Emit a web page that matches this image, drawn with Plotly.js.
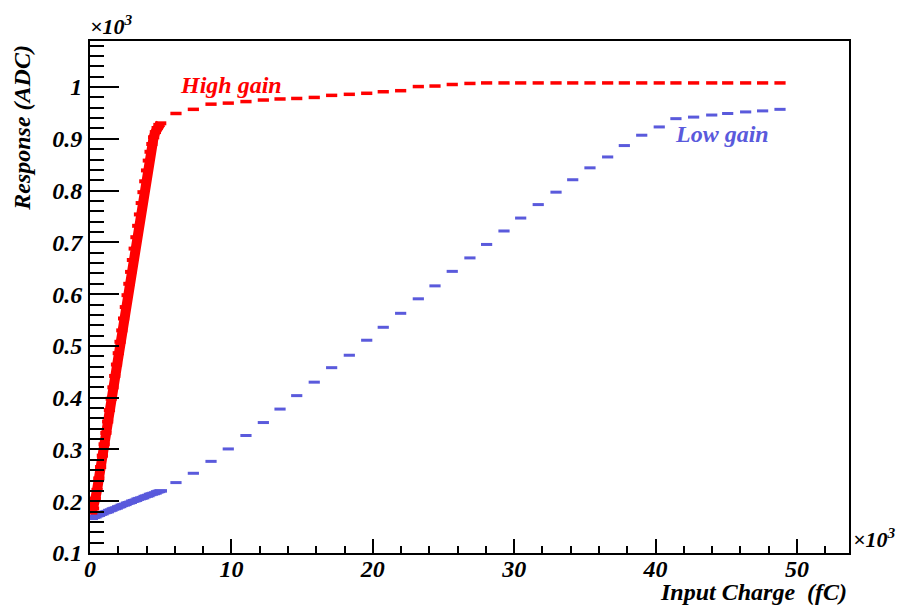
<!DOCTYPE html>
<html>
<head>
<meta charset="utf-8">
<script src="https://cdn.plot.ly/plotly-3.0.1.min.js"></script>
<style>html,body{margin:0;padding:0;background:#fff;}#chart{width:901px;height:608px;}</style>
</head>
<body>
<div id="chart"></div>
<script>
// Input charge (x10^3 fC), dense scan region
const xDense = [0.125,0.25,0.375,0.5,0.625,0.75,0.875,1.0,1.125,1.25,1.375,1.5,1.625,1.75,1.875,2.0,2.125,2.25,2.375,2.5,2.625,2.75,2.875,3.0,3.125,3.25,3.375,3.5,3.625,3.75,3.875,4.0,4.125,4.25,4.375,4.5,4.625,4.75,4.875,5.0];
// Response (x10^3 ADC), high gain, dense region
const highDense = [0.178,0.186,0.205,0.222,0.244,0.266,0.288,0.310,0.332,0.354,0.376,0.398,0.420,0.442,0.464,0.486,0.508,0.530,0.553,0.575,0.598,0.620,0.643,0.666,0.688,0.710,0.732,0.754,0.776,0.797,0.818,0.839,0.858,0.875,0.890,0.903,0.913,0.921,0.927,0.930];
// Response (x10^3 ADC), low gain, dense region
const lowDense = [0.167,0.169,0.170,0.172,0.173,0.175,0.176,0.178,0.179,0.180,0.182,0.183,0.185,0.186,0.187,0.189,0.190,0.192,0.193,0.194,0.196,0.197,0.198,0.200,0.201,0.202,0.204,0.205,0.206,0.207,0.209,0.210,0.211,0.213,0.214,0.215,0.216,0.218,0.219,0.220];
// Input charge (x10^3 fC), coarse scan region
const xSparse = [6.08,7.31,8.56,9.78,11.03,12.26,13.44,14.62,15.86,17.09,18.34,19.57,20.74,21.97,23.22,24.40,25.62,26.87,28.05,29.28,30.46,31.70,32.96,34.14,35.36,36.61,37.79,39.02,40.26,41.44,42.69,43.97,45.10,46.37,47.57,48.80];
const highSparse = [0.949,0.957,0.967,0.969,0.972,0.975,0.977,0.978,0.980,0.984,0.986,0.988,0.991,0.993,1.001,1.002,1.005,1.007,1.008,1.008,1.008,1.008,1.008,1.008,1.008,1.008,1.008,1.008,1.008,1.008,1.008,1.008,1.008,1.008,1.008,1.008];
const lowSparse = [0.236,0.254,0.277,0.301,0.327,0.352,0.378,0.404,0.430,0.458,0.482,0.511,0.536,0.563,0.591,0.616,0.644,0.670,0.696,0.722,0.747,0.773,0.797,0.821,0.844,0.865,0.887,0.907,0.923,0.939,0.942,0.946,0.949,0.952,0.954,0.957];
const xTicks = [0,10,20,30,40,50];
const yTicks = [0.1,0.2,0.3,0.4,0.5,0.6,0.7,0.8,0.9,1];
const yTickText = ['0.1','0.2','0.3','0.4','0.5','0.6','0.7','0.8','0.9','1'];

const RED = '#ff0000';
const BLUE = '#5a5adc';
const FONT = 'Liberation Serif';

function dashes(x, y, color, size, w, name, mode, lw) {
  const t = {
    x: x, y: y, type: 'scatter', mode: mode || 'markers', name: name,
    marker: {symbol: 'line-ew', size: size, color: color, line: {color: color, width: w}},
    hoverinfo: 'x+y'
  };
  if (lw) t.line = {color: color, width: lw};
  return t;
}

const data = [
  dashes(xDense, lowDense, BLUE, 9, 3.5, 'Low gain'),
  dashes(xSparse, lowSparse, BLUE, 8, 3, 'Low gain'),
  dashes(xDense, highDense, RED, 8, 4, 'High gain', 'lines+markers', 10),
  dashes(xSparse, highSparse, RED, 8, 3.5, 'High gain')
];

function f(size, color) {
  return {family: FONT, size: size, color: color || '#000', weight: 'bold', style: 'italic'};
}

const layout = {
  width: 901, height: 608,
  margin: {l: 90, r: 52, t: 41, b: 55, pad: 0},
  paper_bgcolor: '#fff', plot_bgcolor: '#fff',
  showlegend: false,
  font: {family: FONT},
  xaxis: {
    range: [0, 53.68], showgrid: false, zeroline: false,
    showline: true, linecolor: '#000', linewidth: 2, mirror: true,
    tickmode: 'array', tickvals: xTicks,
    ticks: 'inside', ticklen: 14, tickwidth: 2, tickcolor: '#000',
    minor: {tickmode: 'linear', tick0: 0, dtick: 2, ticks: 'inside', ticklen: 7, tickwidth: 2, tickcolor: '#000'},
    tickfont: f(24), ticklabelstandoff: -7
  },
  yaxis: {
    range: [0.1, 1.089], showgrid: false, zeroline: false,
    showline: true, linecolor: '#000', linewidth: 2, mirror: true,
    tickmode: 'array', tickvals: yTicks, ticktext: yTickText,
    ticks: 'inside', ticklen: 29, tickwidth: 2, tickcolor: '#000',
    minor: {tickmode: 'linear', tick0: 0.1, dtick: 0.02, ticks: 'inside', ticklen: 14, tickwidth: 2, tickcolor: '#000'},
    tickfont: f(24), ticklabelstandoff: 1
  },
  annotations: [
    {text: 'Response (ADC)', xref: 'paper', yref: 'paper', x: -0.09, y: 0.83, xanchor: 'center', yanchor: 'middle', textangle: -90, showarrow: false,
     font: f(24)},
    {text: 'Input Charge  (fC)', xref: 'paper', yref: 'paper', x: 1.0, y: -0.077, xanchor: 'right', yanchor: 'middle', showarrow: false,
     font: f(24)},
    {text: '×10<sup>3</sup>', xref: 'paper', yref: 'paper', x: -0.003, y: 1.0, xanchor: 'left', yanchor: 'bottom', showarrow: false,
     font: f(22)},
    {text: '×10<sup>3</sup>', xref: 'paper', yref: 'paper', x: 1.003, y: 0.03, xanchor: 'left', yanchor: 'middle', showarrow: false,
     font: f(22)},
    {text: 'High gain', xref: 'x', yref: 'y', x: 6.2, y: 1.004, xanchor: 'left', yanchor: 'middle', showarrow: false,
     font: f(24, RED)},
    {text: 'Low gain', xref: 'x', yref: 'y', x: 41.25, y: 0.91, xanchor: 'left', yanchor: 'middle', showarrow: false,
     font: f(24, BLUE)}
  ]
};

Plotly.newPlot('chart', data, layout, {staticPlot: true, displayModeBar: false});
</script>
</body>
</html>
